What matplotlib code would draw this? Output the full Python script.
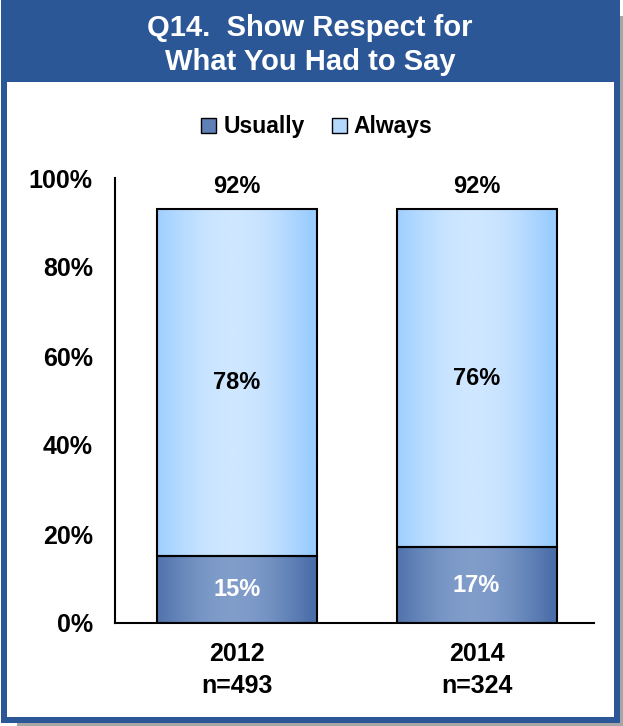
import numpy as np
import matplotlib.pyplot as plt
from matplotlib.patches import Rectangle, Patch
from matplotlib.colors import LinearSegmentedColormap

years = ['2012', '2014']
sample_sizes = ['n=493', 'n=324']
usually = [15, 17]
always = [78, 76]
totals = ['92%', '92%']

plt.rcParams['font.family'] = ['Liberation Sans', 'DejaVu Sans']
plt.rcParams['font.weight'] = 'bold'

W, H = 623, 726
fig = plt.figure(figsize=(W / 100, H / 100), dpi=100)
fig.patch.set_facecolor('white')


def box(x0, y0, x1, y1, color):
    # rectangle given in pixels from the top-left corner
    fig.add_artist(Rectangle((x0 / W, 1 - y1 / H), (x1 - x0) / W, (y1 - y0) / H,
                             transform=fig.transFigure, facecolor=color,
                             edgecolor='none', zorder=0))


# frame: drop shadow, blue border / title band, white panel
box(17, 16, 623, 726, '#A6A6A6')
box(1, 0, 620, 723, '#2B5797')
box(7, 82, 614, 717, 'white')

fig.text(310 / W, 1 - 28 / H, 'Q14.  Show Respect for', ha='center', va='center',
         color='white', fontsize=21)
fig.text(310 / W, 1 - 62 / H, 'What You Had to Say', ha='center', va='center',
         color='white', fontsize=21)

ax = fig.add_axes([115 / W, 1 - 623 / H, (594 - 115) / W, (623 - 178) / H])
ax.set_facecolor('none')

x = np.arange(len(years))
width = 0.668
b1 = ax.bar(x, usually, width=width, facecolor='none', edgecolor='black', lw=1.5, zorder=3)
b2 = ax.bar(x, always, width=width, bottom=usually, facecolor='none', edgecolor='black',
            lw=1.5, zorder=3)

# horizontal gradient: dark at both edges, light just left of centre
t = np.linspace(0, 1, 200)
prof = np.clip(1 - np.abs(t - 0.47) / 0.5, 0, 1)
prof = np.sin(prof * np.pi / 2)[None, :]
cm_usually = LinearSegmentedColormap.from_list('u', ['#4A6EA9', '#809DCA'])
cm_always = LinearSegmentedColormap.from_list('a', ['#99CCFF', '#CFE7FF'])

for bars, cmap in [(b1, cm_usually), (b2, cm_always)]:
    for r in bars:
        x0, y0 = r.get_x(), r.get_y()
        ax.imshow(prof, extent=(x0, x0 + r.get_width(), y0, y0 + r.get_height()),
                  cmap=cmap, aspect='auto', zorder=2, interpolation='bilinear')

for i in range(len(years)):
    ax.text(x[i], usually[i] / 2, f'{usually[i]}%', ha='center', va='center',
            color='white', fontsize=17)
    ax.text(x[i], usually[i] + always[i] / 2, f'{always[i]}%', ha='center', va='center',
            color='black', fontsize=17)
    ax.text(x[i], usually[i] + always[i] + 5, totals[i], ha='center', va='center',
            color='black', fontsize=17)

ax.set_xlim(-0.509, 1.49)
ax.set_ylim(0, 100)
ax.set_yticks(range(0, 101, 20))
ax.set_yticklabels([f'{v}%' for v in range(0, 101, 20)], fontsize=18)
ax.set_xticks(x)
ax.set_xticklabels([f'{y}\n{n}' for y, n in zip(years, sample_sizes)], fontsize=18,
                   linespacing=1.4)
ax.tick_params(axis='y', length=0, pad=16)
ax.tick_params(axis='x', length=0, pad=14)
for s in ['top', 'right']:
    ax.spines[s].set_visible(False)
for s in ['left', 'bottom']:
    ax.spines[s].set_linewidth(1.5)

fig.legend(handles=[Patch(facecolor='#5F80B6', edgecolor='black'),
                    Patch(facecolor='#B3D9FF', edgecolor='black')],
           labels=['Usually', 'Always'], loc='center', bbox_to_anchor=(317 / W, 1 - 127 / H),
           ncol=2, frameon=False, fontsize=16.5, handlelength=0.65, handleheight=0.65,
           handletextpad=0.3, columnspacing=1.2)

fig.savefig('out.png', dpi=100)
